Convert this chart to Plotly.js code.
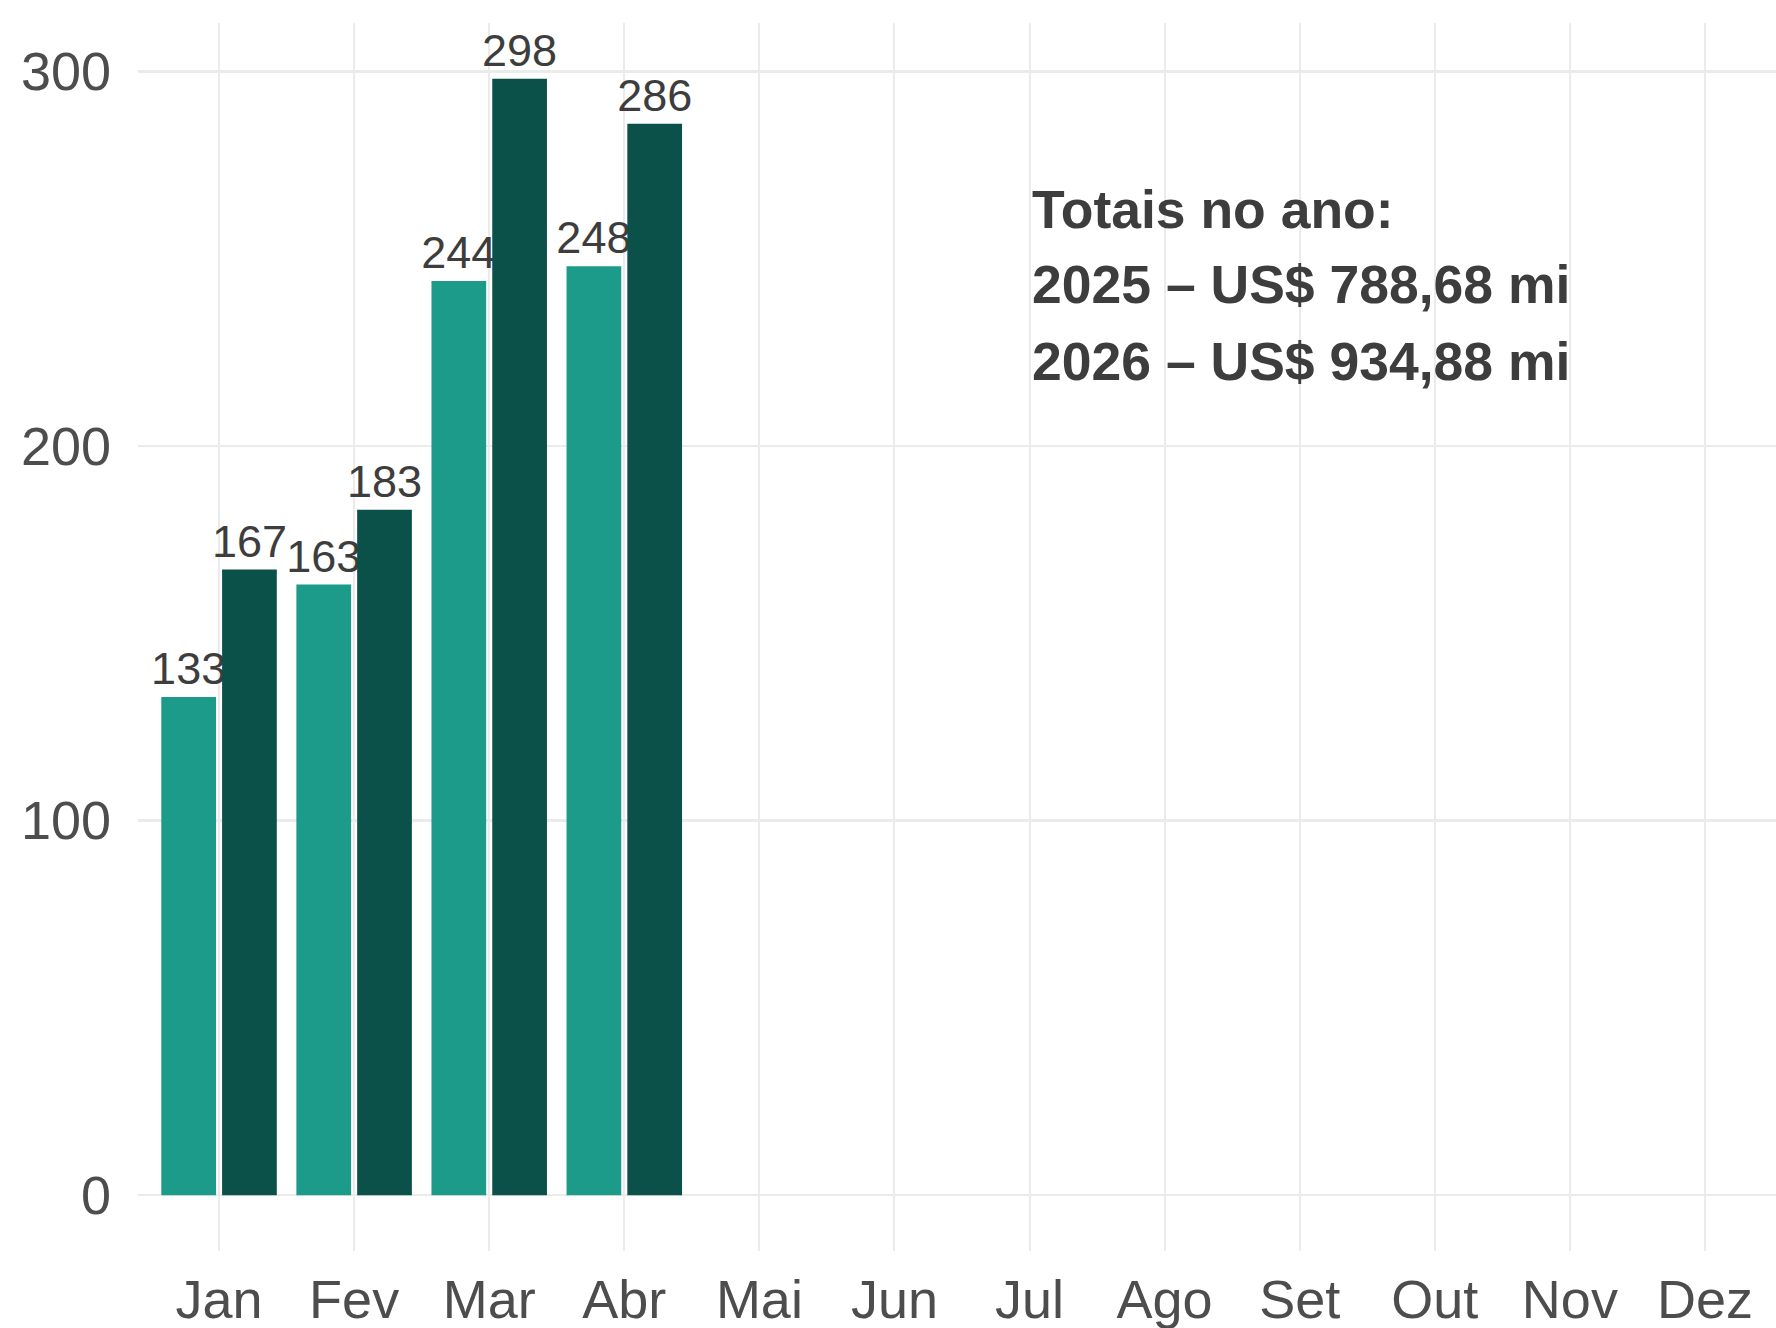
<!DOCTYPE html>
<html>
<head>
<meta charset="utf-8">
<script src="https://cdn.plot.ly/plotly-3.0.1.min.js"></script>
<style>html,body{margin:0;padding:0;background:#fff;}#chart{width:1776px;height:1328px;}</style>
</head>
<body>
<div id="chart"></div>
<script>
var months = ["Jan","Fev","Mar","Abr","Mai","Jun","Jul","Ago","Set","Out","Nov","Dez"];
var values2025 = [133, 163, 244, 248, null, null, null, null, null, null, null, null];
var values2026 = [167, 183, 298, 286, null, null, null, null, null, null, null, null];
var seriesNames = ["2025", "2026"];
var seriesColors = ["#1C9A8A", "#0B5049"];
var totalsTitle = "Totais no ano:";
var totalsLines = ["2025 – US$ 788,68 mi", "2026 – US$ 934,88 mi"];

var FONT = "Liberation Sans, Arial, Helvetica, sans-serif";

function barTrace(vals, name, color) {
  return {
    type: "bar",
    x: months,
    y: vals,
    name: name,
    marker: {color: color},
    text: vals.map(function(v){ return v === null ? "" : String(Math.round(v)); }),
    textposition: "outside",
    constraintext: "none",
    cliponaxis: false,
    textfont: {family: FONT, size: 45, color: "#3D3D3D"},
    hoverinfo: "x+y"
  };
}

var data = [
  barTrace(values2025, seriesNames[0], seriesColors[0]),
  barTrace(values2026, seriesNames[1], seriesColors[1])
];

var annLines = [totalsTitle].concat(totalsLines);
var annY = [0.8483, 0.7872, 0.7245];
var annotations = annLines.map(function(t, i){
  return {
    text: "<b>" + t + "</b>",
    xref: "x", x: "Jul", xanchor: "left",
    yref: "paper", y: annY[i], yanchor: "middle",
    showarrow: false,
    align: "left",
    font: {family: FONT, size: 53.5, color: "#3D3D3D"}
  };
});

var layout = {
  width: 1776,
  height: 1328,
  margin: {l: 138, r: 0, t: 23.4, b: 77.2, pad: 0},
  paper_bgcolor: "#ffffff",
  plot_bgcolor: "#ffffff",
  showlegend: false,
  barmode: "group",
  bargap: 0.1,
  bargroupgap: 0.1,
  font: {family: FONT, color: "#4D4D4D"},
  xaxis: {
    type: "category",
    categoryorder: "array",
    categoryarray: months,
    range: [-0.6, 11.526],
    showgrid: true,
    gridcolor: "#EBEBEB",
    gridwidth: 2,
    showline: false,
    zeroline: false,
    ticks: "",
    ticklabelstandoff: 12,
    tickfont: {family: FONT, size: 54, color: "#4D4D4D"},
    fixedrange: true
  },
  yaxis: {
    range: [-14.9, 312.9],
    tickvals: [0, 100, 200, 300],
    ticktext: ["0", "100", "200", "300"],
    showgrid: true,
    gridcolor: "#EBEBEB",
    gridwidth: 2.5,
    zeroline: false,
    showline: false,
    ticks: "",
    ticklabelstandoff: 26,
    tickfont: {family: FONT, size: 54, color: "#4D4D4D"},
    fixedrange: true
  },
  annotations: annotations
};

Plotly.newPlot("chart", data, layout, {displayModeBar: false, staticPlot: true});
</script>
</body>
</html>
